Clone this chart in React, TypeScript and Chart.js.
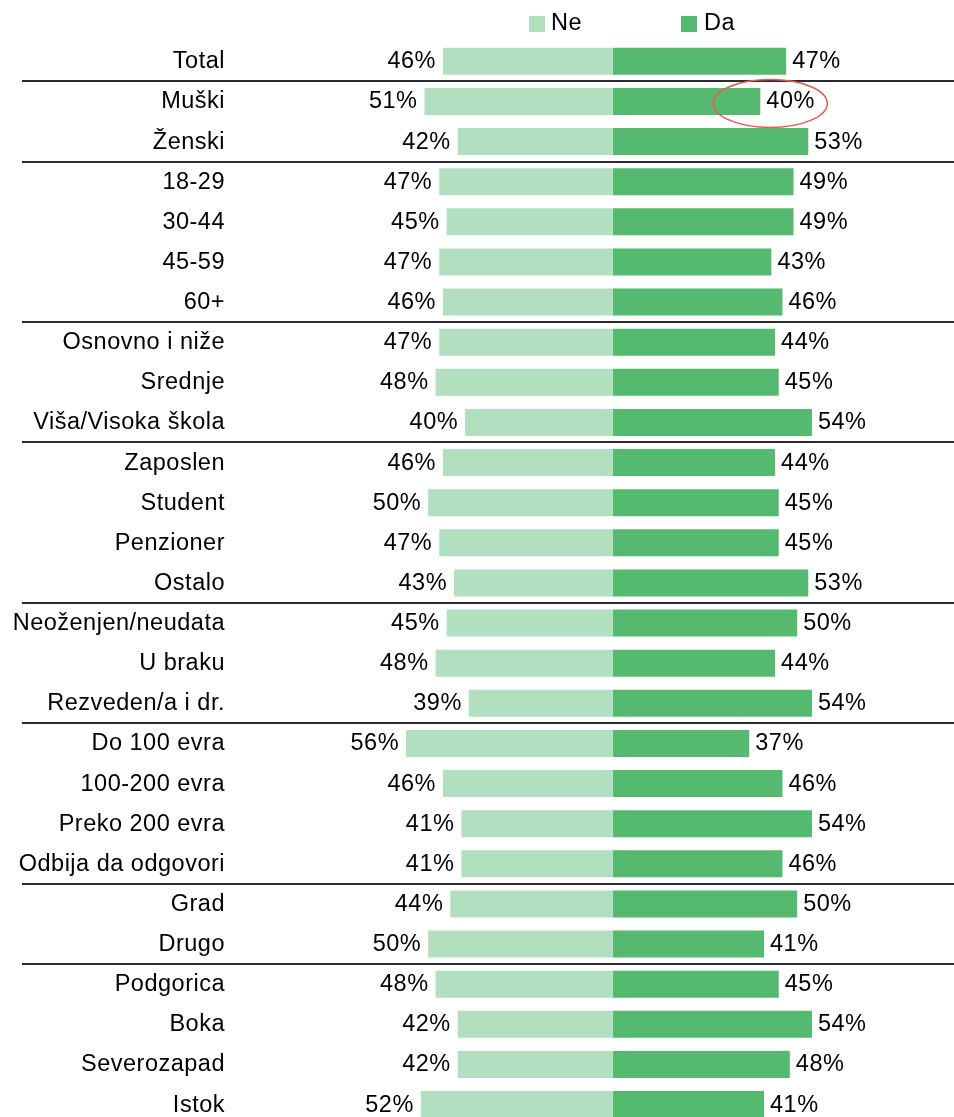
import React, { useEffect, useRef } from "react";
import { Chart, registerables } from "chart.js";

Chart.register(...registerables);

const categories: string[] = [
  "Total",
  "Muški", "Ženski",
  "18-29", "30-44", "45-59", "60+",
  "Osnovno i niže", "Srednje", "Viša/Visoka škola",
  "Zaposlen", "Student", "Penzioner", "Ostalo",
  "Neoženjen/neudata", "U braku", "Rezveden/a i dr.",
  "Do 100 evra", "100-200 evra", "Preko 200 evra", "Odbija da odgovori",
  "Grad", "Drugo",
  "Podgorica", "Boka", "Severozapad", "Istok",
];

const neValues: number[] = [
  46,
  51, 42,
  47, 45, 47, 46,
  47, 48, 40,
  46, 50, 47, 43,
  45, 48, 39,
  56, 46, 41, 41,
  44, 50,
  48, 42, 42, 52,
];

const daValues: number[] = [
  47,
  40, 53,
  49, 49, 43, 46,
  44, 45, 54,
  44, 45, 45, 53,
  50, 44, 54,
  37, 46, 54, 46,
  50, 41,
  45, 54, 48, 41,
];

// index of last row of each group (separator drawn below it)
const groupEnds: number[] = [0, 2, 6, 9, 13, 16, 20, 22];

const seriesNames: string[] = ["Ne", "Da"];
const highlightedRow = 1; // Muški, Da

const W = 954;
const H = 1117;
const NE_COLOR = "#b1dfbf";
const DA_COLOR = "#55b96f";
const FONT = "23.5px 'Liberation Sans', Arial, sans-serif";

export default function App() {
  const ref = useRef<HTMLCanvasElement | null>(null);

  useEffect(() => {
    const canvas = ref.current;
    if (!canvas) return;

    const overlay = {
      id: "overlay",
      afterDatasetsDraw(chart: any) {
        const ctx = chart.ctx;
        const xs = chart.scales.x;
        const ys = chart.scales.y;
        const metaNe = chart.getDatasetMeta(0);
        const metaDa = chart.getDatasetMeta(1);
        ctx.save();
        ctx.font = FONT;
        (ctx as any).letterSpacing = "0.5px";
        ctx.fillStyle = "#000";
        ctx.textBaseline = "middle";

        categories.forEach((cat, i) => {
          const y = ys.getPixelForValue(i) + 0.5;
          ctx.textAlign = "right";
          ctx.fillText(cat, 225, y);
          const neEl = metaNe.data[i];
          ctx.fillText(`${neValues[i]}%`, neEl.x - 7, y);
          const daEl = metaDa.data[i];
          ctx.textAlign = "left";
          ctx.fillText(`${daValues[i]}%`, daEl.x + 6, y);
        });

        // separators
        ctx.strokeStyle = "#2b2b2b";
        ctx.lineWidth = 2;
        groupEnds.forEach((g) => {
          const y = Math.round(ys.getPixelForValue(g + 0.5));
          ctx.beginPath();
          ctx.moveTo(22, y);
          ctx.lineTo(W, y);
          ctx.stroke();
        });

        // legend
        const legendY = 24;
        ctx.fillStyle = NE_COLOR;
        ctx.fillRect(529, legendY - 8, 16, 16);
        ctx.fillStyle = DA_COLOR;
        ctx.fillRect(681, legendY - 8, 16, 16);
        ctx.fillStyle = "#000";
        ctx.textAlign = "left";
        ctx.fillText(seriesNames[0], 551, legendY);
        ctx.fillText(seriesNames[1], 704, legendY);

        // highlight ellipse
        const hy = ys.getPixelForValue(highlightedRow);
        const hx = xs.getPixelForValue(daValues[highlightedRow]);
        ctx.strokeStyle = "#ea5a52";
        ctx.lineWidth = 1.5;
        ctx.beginPath();
        ctx.ellipse(hx + 10, hy + 2, 57, 24, 0, 0, Math.PI * 2);
        ctx.stroke();

        ctx.restore();
      },
    };

    const chart = new Chart(canvas, {
      type: "bar",
      data: {
        datasets: [
          {
            label: seriesNames[0],
            data: neValues.map((v, i) => ({ x: -v, y: i })),
            backgroundColor: NE_COLOR,
            borderWidth: 0,
            barPercentage: 0.67,
            categoryPercentage: 1,
          },
          {
            label: seriesNames[1],
            data: daValues.map((v, i) => ({ x: v, y: i })),
            backgroundColor: DA_COLOR,
            borderWidth: 0,
            barPercentage: 0.67,
            categoryPercentage: 1,
          },
        ],
      },
      options: {
        indexAxis: "y",
        responsive: false,
        animation: false,
        devicePixelRatio: 1,
        layout: { padding: 0 },
        plugins: {
          legend: { display: false },
          tooltip: { enabled: false },
        },
        scales: {
          x: {
            type: "linear",
            stacked: true,
            offset: false,
            min: -166.04,
            max: 92.49,
            display: false,
          },
          y: {
            type: "linear",
            stacked: true,
            offset: false,
            reverse: true,
            min: -1.528,
            max: 26.31,
            display: false,
          },
        },
      } as any,
      plugins: [overlay],
    });

    return () => chart.destroy();
  }, []);

  return (
    <div style={{ position: "absolute", left: 0, top: 0, width: W, height: H, background: "#fff" }}>
      <canvas ref={ref} width={W} height={H} style={{ width: W, height: H, display: "block" }} />
    </div>
  );
}
